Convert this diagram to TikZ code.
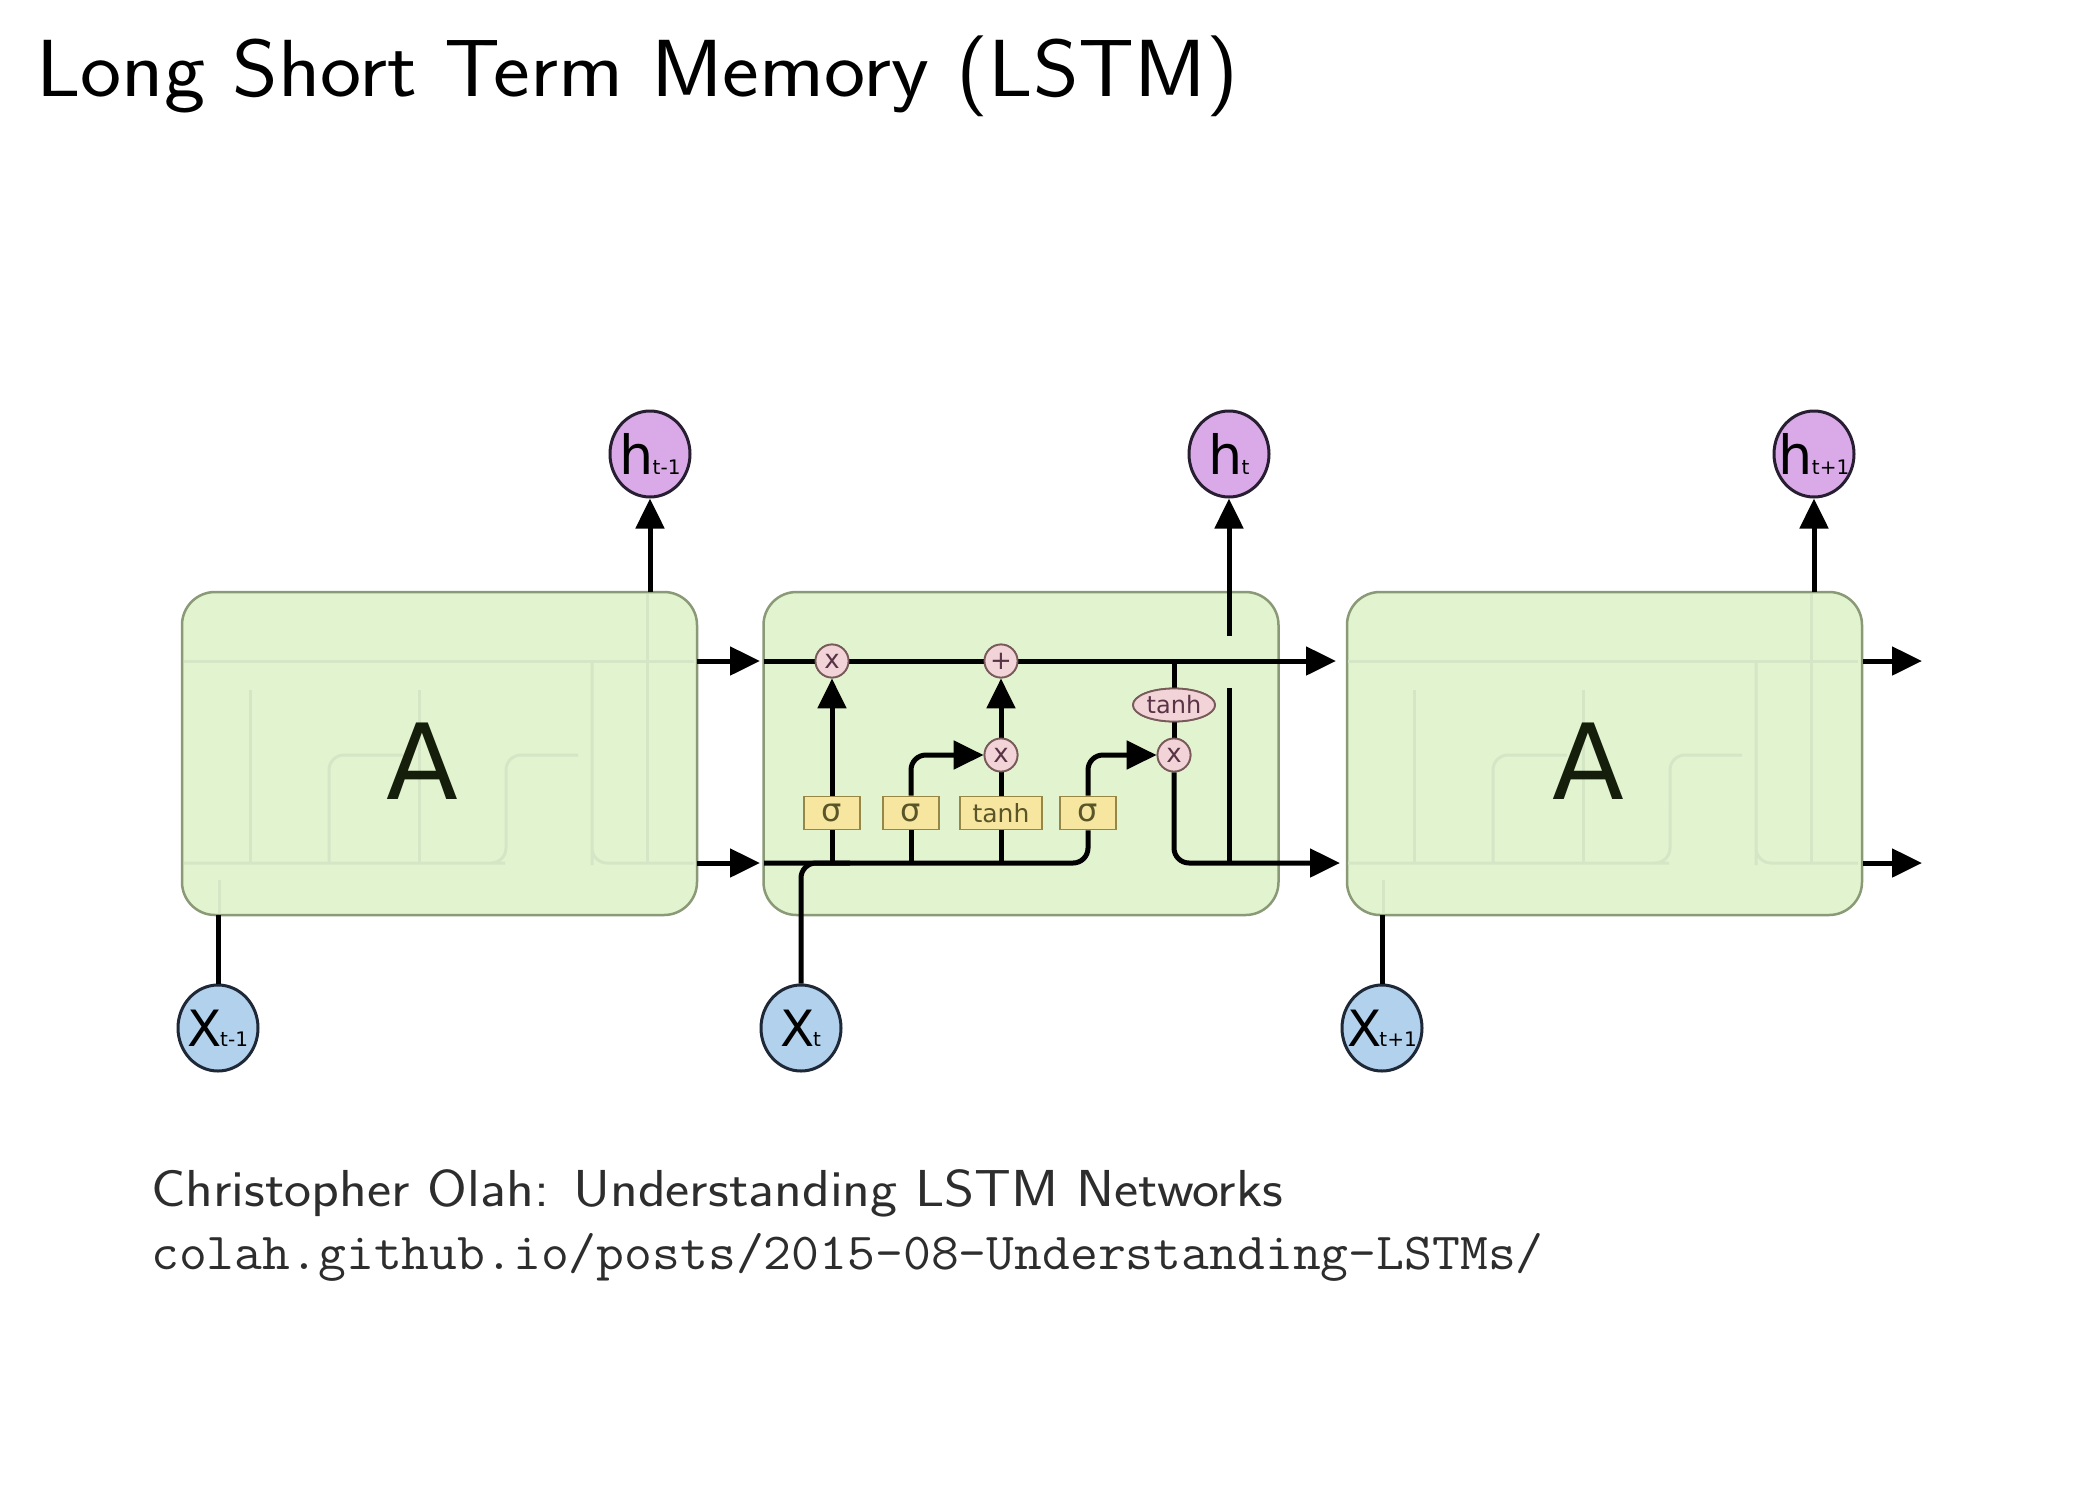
\documentclass[tikz,border=0pt]{standalone}
\usepackage{fontspec}
\newfontfamily\dfont{DejaVu Sans}
\usetikzlibrary{arrows.meta,shapes.geometric}
\definecolor{cellfill}{RGB}{226,243,208}
\definecolor{cellborder}{RGB}{138,154,118}
\definecolor{hfill}{RGB}{218,170,232}
\definecolor{xfill}{RGB}{177,209,236}
\definecolor{opfill}{RGB}{242,212,216}
\definecolor{opborder}{RGB}{120,90,90}
\definecolor{optext}{RGB}{90,50,70}
\definecolor{gatefill}{RGB}{246,230,160}
\definecolor{gateborder}{RGB}{150,135,70}
\definecolor{gatetext}{RGB}{90,85,40}
\definecolor{ghost}{RGB}{212,230,198}
\definecolor{captext}{RGB}{45,45,45}
\tikzset{
  cellbox/.style={draw=cellborder,fill=cellfill,rounded corners=33pt,line width=2.5pt,minimum width=515pt,minimum height=323pt},
  flow/.style={line width=5pt,black},
  arr/.style={flow,-{Triangle[length=30pt,width=28pt]}},
  pw/.style={circle,draw=opborder,fill=opfill,line width=1.8pt,minimum size=33pt,inner sep=0pt,text=optext,font=\dfont\fontsize{26}{26}\selectfont},
  gatebox/.style={rectangle,draw=gateborder,fill=gatefill,line width=1.8pt,minimum height=33pt,inner sep=1pt,text=gatetext},
  tanhell/.style={ellipse,draw=opborder,fill=opfill,line width=1.8pt,minimum width=82pt,minimum height=33pt,inner sep=0pt,text=optext,font=\dfont\fontsize{24}{24}\selectfont},
  hnode/.style={ellipse,draw={rgb,255:red,40;green,30;blue,50},fill=hfill,line width=3pt,minimum width=80pt,minimum height=86pt,inner sep=0pt},
  xnode/.style={ellipse,draw={rgb,255:red,30;green,40;blue,55},fill=xfill,line width=3pt,minimum width=80pt,minimum height=86pt,inner sep=0pt},
  ghostline/.style={line width=3pt,ghost,rounded corners=15pt},
}
\newcommand{\hlab}[1]{{\dfont\fontsize{54}{54}\selectfont h}\kern-1pt{\dfont\fontsize{20}{20}\selectfont #1}}
\newcommand{\xlab}[1]{{\dfont\fontsize{50}{50}\selectfont X}\kern-2pt{\dfont\fontsize{20}{20}\selectfont #1}}
\begin{document}
\begin{tikzpicture}[x=1pt,y=-1pt]
\useasboundingbox[fill=white] (0,0) rectangle (2094,1508);
% title and caption
\node[anchor=base west,inner sep=0pt,font=\sffamily\fontsize{81}{97}\selectfont] (title) at (36,96) {\scalebox{1.08}[1]{Long Short Term Memory (LSTM)}};
\node[anchor=base west,inner sep=0pt,text=captext,font=\sffamily\fontsize{52}{62}\selectfont] (cap) at (151,1206) {\scalebox{1.105}[1]{Christopher Olah: Understanding LSTM Networks}};
\node[anchor=base west,inner sep=0pt,text=captext,font=\ttfamily\fontsize{52}{62}\selectfont] (url) at (151,1269) {\scalebox{1.04}[1]{colah.github.io/posts/2015-08-Understanding-LSTMs/}};
% cells
\node[cellbox] (cellL) at (439.5,753.5) {};
\node[cellbox] (cellM) at (1021,753.5) {};
\node[cellbox] (cellR) at (1604.5,753.5) {};
% ghost internals
\foreach \s in {-582,582}{
\begin{scope}[xshift=\s pt]
\draw[ghostline] (766,661) -- (1276,661);
\draw[ghostline] (766,863) -- (1072,863) -| (1088,800);
\draw[ghostline] (832,863) -- (832,690);
\draw[ghostline] (911,863) |- (985,755);
\draw[ghostline] (1001,863) -- (1001,690);
\draw[ghostline] (1088,800) |- (1160,755);
\draw[ghostline] (1174,661) -- (1174,850) |- (1276,863);
\draw[ghostline] (1229,863) -- (1229,594);
\draw[ghostline] (801,913) -- (801,880);
\end{scope}}
\node[font=\dfont\fontsize{105}{105}\selectfont,text={rgb,255:red,20;green,30;blue,10}] (AL) at (422,761) {A};
\node[font=\dfont\fontsize{105}{105}\selectfont,text={rgb,255:red,20;green,30;blue,10}] (AR) at (1588,761) {A};
% outer nodes
\node[hnode,label={center:\hlab{t-1}}] (hL) at (650,454) {};
\node[hnode,label={center:\hlab{t}}] (hM) at (1229,454) {};
\node[hnode,label={center:\hlab{t+1}}] (hR) at (1814,454) {};
\node[xnode,label={center:\xlab{t-1}}] (xL) at (218,1028) {};
\node[xnode,label={center:\xlab{t}}] (xM) at (801,1028) {};
\node[xnode,label={center:\xlab{t+1}}] (xR) at (1382,1028) {};
% middle internals nodes
\node[pw] (f) at (832,661) {x};
\node[pw] (add) at (1001,661) {+};
\node[pw] (im) at (1001,755) {x};
\node[pw] (om) at (1174,755) {x};
\node[tanhell] (tc) at (1174,705) {tanh};
\node[gatebox,minimum width=56pt,font=\dfont\fontsize{32}{32}\selectfont] (g1) at (832,813) {σ};
\node[gatebox,minimum width=56pt,font=\dfont\fontsize{32}{32}\selectfont] (g2) at (911,813) {σ};
\node[gatebox,minimum width=82pt,font=\dfont\fontsize{25}{25}\selectfont] (g3) at (1001,813) {tanh};
\node[gatebox,minimum width=56pt,font=\dfont\fontsize{32}{32}\selectfont] (g4) at (1088,813) {σ};
\coordinate (mTL) at (764,661);
\coordinate (mTR) at (1336,661);
\coordinate (mBL) at (764,863);
\coordinate (mBR) at (1340,863);
\coordinate (cTap) at (1174,661);
% middle internals paths
\draw[flow] (1229,863) -- (1229,688);
\draw[arr] (1229,636) -- (hM.south);
\draw[flow] (cTap) -- (tc.north);
\draw[flow] (tc.south) -- (om.north);
\draw[flow] (g1.south) -- (832,863);
\draw[flow] (g2.south) -- (911,863);
\draw[flow] (g3.south) -- (1001,863);
\draw[flow,rounded corners=15pt] (mBL) -- (1088,863) -- (g4.south);
\draw[flow,rounded corners=15pt] (xM.north) |- (850,863);
\draw[arr] (mTL) -- (mTR);
\draw[arr] (g1.north) -- (f.south);
\draw[arr,rounded corners=15pt] (g2.north) |- (im.west);
\draw[flow] (g3.north) -- (im.south);
\draw[arr] (im.north) -- (add.south);
\draw[arr,rounded corners=15pt] (g4.north) |- (om.west);
\draw[arr,rounded corners=15pt] (om.south) |- (mBR);
% redraw op nodes on top
\node[pw] at (f) {x};
\node[pw] at (add) {+};
\node[pw] at (im) {x};
\node[pw] at (om) {x};
\node[tanhell] at (tc) {tanh};
% connectors between cells
\draw[arr] (697,661) -- (760,661);
\draw[arr] (697,863) -- (760,863);
\draw[arr] (1863,661) -- (1922,661);
\draw[arr] (1863,863) -- (1922,863);
\draw[arr] (650,592) -- (hL.south);
\draw[arr] (1814,592) -- (hR.south);
\draw[flow] (xL.north) -- (218,915);
\draw[flow] (xR.north) -- (1382,915);
\end{tikzpicture}
\end{document}
